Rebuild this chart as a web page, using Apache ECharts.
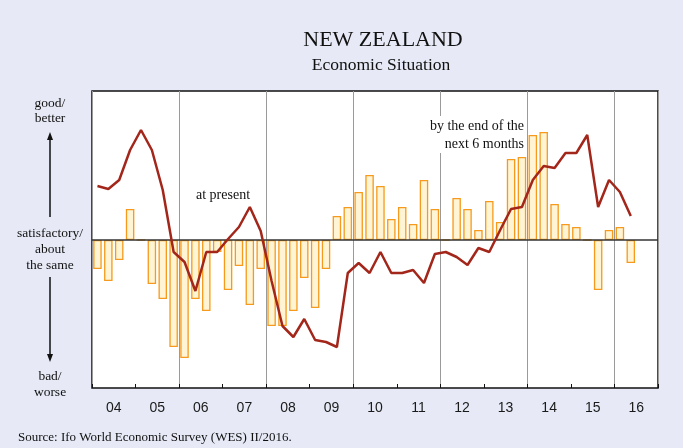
<!DOCTYPE html>
<html>
<head>
<meta charset="utf-8">
<title>New Zealand - Economic Situation</title>
<script src="https://cdn.jsdelivr.net/npm/echarts@6/dist/echarts.min.js"></script>
<style>
  html, body { margin: 0; padding: 0; background: #e7eaf6; }
  #chart { width: 683px; height: 448px; }
</style>
</head>
<body>
<div id="chart"></div>
<script>
// years shown under the axis
var years = ['04', '05', '06', '07', '08', '09', '10', '11', '12', '13', '14', '15', '16'];

// quarterly expectations (bars), Q1 2004 .. Q2 2016
var expectations = [
    -29, -41, -20, 31,
    0, -44, -59, -107,
    -118, -59, -71, -12,
    -50, -26, -65, -29,
    -86, -86, -71, -38,
    -68, -29, 24, 33,
    48, 65, 54, 21,
    33, 16, 60, 31,
    0, 42, 31, 10,
    39, 18, 81, 83,
    105, 108, 36, 16,
    13, 0, -50, 10,
    13, -23
];

// quarterly present situation (line)
var present = [
    54, 51, 60, 90,
    110, 90, 50, -12,
    -22, -51, -12, -12,
    1, 13, 33, 9,
    -41, -86, -97, -79,
    -100, -102, -107, -33,
    -23, -33, -12, -33,
    -33, -30, -43, -14,
    -12, -17, -25, -8,
    -12, 10, 31, 33,
    60, 74, 72, 87,
    87, 105, 33, 60,
    48, 24
];

var quarters = [];
for (var y = 0; y < years.length; y++) {
    for (var q = 1; q <= 4; q++) {
        quarters.push(years[y] + 'Q' + q);
    }
}

var myChart = echarts.init(document.getElementById('chart'));

function arrow(x, y1, y2) {
    // shaft plus small head at y2
    var dir = y2 < y1 ? 1 : -1;
    return [
        {
            type: 'line',
            shape: { x1: x, y1: y1, x2: x, y2: y2 + dir * 4 },
            style: { stroke: '#111', lineWidth: 1.5 }
        },
        {
            type: 'polygon',
            shape: { points: [[x, y2], [x - 3, y2 + dir * 8], [x + 3, y2 + dir * 8]] },
            style: { fill: '#111' }
        }
    ];
}

var graphics = [
    {
        type: 'text', x: 383, y: 40,
        style: { text: 'NEW ZEALAND', font: '22px "Liberation Serif"', fill: '#111', textAlign: 'center', textVerticalAlign: 'middle' }
    },
    {
        type: 'text', x: 381, y: 65,
        style: { text: 'Economic Situation', font: '17.5px "Liberation Serif"', fill: '#111', textAlign: 'center', textVerticalAlign: 'middle' }
    },
    {
        type: 'text', x: 50, y: 111,
        style: { text: 'good/\nbetter', font: '13.5px "Liberation Serif"', lineHeight: 15, fill: '#111', textAlign: 'center', textVerticalAlign: 'middle' }
    },
    {
        type: 'text', x: 50, y: 249,
        style: { text: 'satisfactory/\nabout\nthe same', font: '13.5px "Liberation Serif"', lineHeight: 16, fill: '#111', textAlign: 'center', textVerticalAlign: 'middle' }
    },
    {
        type: 'text', x: 50, y: 384,
        style: { text: 'bad/\nworse', font: '13.5px "Liberation Serif"', lineHeight: 16, fill: '#111', textAlign: 'center', textVerticalAlign: 'middle' }
    },
    {
        type: 'text', x: 223, y: 195,
        style: { text: 'at present', font: '14px "Liberation Serif"', fill: '#111', textAlign: 'center', textVerticalAlign: 'middle' }
    },
    {
        type: 'rect', z: 50,
        shape: { x: 419, y: 116, width: 107, height: 37 },
        style: { fill: '#fff' }
    },
    {
        type: 'text', x: 524, y: 135, z: 51,
        style: { text: 'by the end of the\nnext 6 months', font: '14px "Liberation Serif"', lineHeight: 18, fill: '#111', textAlign: 'right', textVerticalAlign: 'middle' }
    },
    {
        type: 'text', left: 18, top: 431,
        style: { text: 'Source: Ifo World Economic Survey (WES) II/2016.', font: '13px "Liberation Serif"', fill: '#111' }
    }
].concat(arrow(50, 217, 132)).concat(arrow(50, 277, 362));

var option = {
    backgroundColor: '#e7eaf6',
    animation: false,
    grid: {
        left: 92, right: 25, top: 91, bottom: 60,
        show: true,
        backgroundColor: '#fff',
        borderColor: '#111',
        borderWidth: 1.5
    },
    xAxis: [
        {
            type: 'category',
            data: quarters,
            show: false
        },
        {
            type: 'category',
            data: years,
            position: 'bottom',
            axisLine: { show: false },
            axisTick: {
                show: true, inside: true, length: 4,
                lineStyle: { color: '#111', width: 1 }
            },
            axisLabel: {
                fontFamily: 'Liberation Sans', fontSize: 14, color: '#1a1a1a', margin: 13
            },
            splitLine: {
                show: true,
                interval: function (index) { return index % 2 === 0; },
                lineStyle: { color: '#9a9a9a', width: 1 }
            }
        }
    ],
    yAxis: {
        type: 'value',
        min: -148,
        max: 149,
        show: false,
        splitLine: { show: false }
    },
    series: [
        {
            name: 'by the end of the next 6 months',
            type: 'bar',
            xAxisIndex: 0,
            data: expectations,
            barWidth: 8.5,
            itemStyle: {
                color: '#fff4d4',
                borderColor: '#f59a1c',
                borderWidth: 1.3
            },
            markLine: {
                silent: true,
                symbol: 'none',
                label: { show: false },
                lineStyle: { color: '#333', width: 1.5, type: 'solid' },
                data: [{ yAxis: 0 }]
            }
        },
        {
            name: 'at present',
            type: 'line',
            xAxisIndex: 0,
            data: present,
            showSymbol: false,
            symbol: 'none',
            z: 5,
            lineStyle: { color: '#a3261b', width: 2.5 }
        }
    ],
    graphic: graphics
};

myChart.setOption(option);
window.addEventListener('resize', function () {
    myChart.resize();
});
</script>
</body>
</html>
